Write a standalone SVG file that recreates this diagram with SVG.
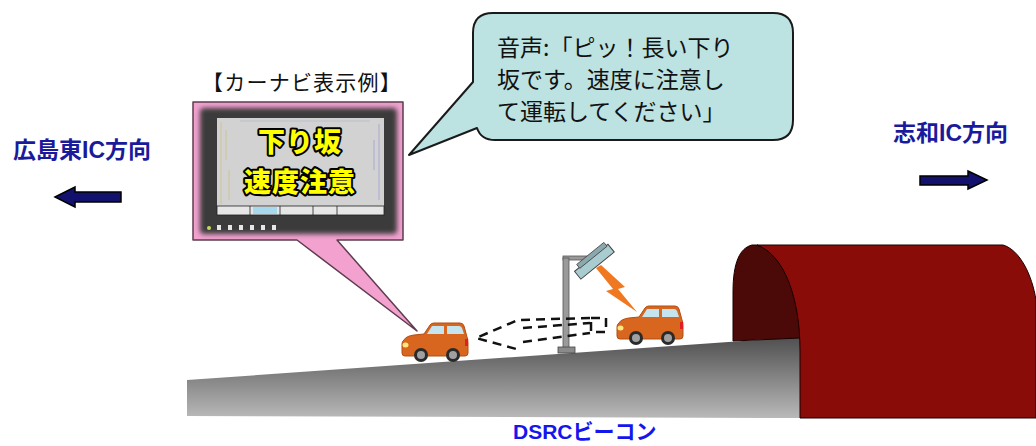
<svg xmlns="http://www.w3.org/2000/svg" width="1036" height="446" viewBox="0 0 1036 446">
  <style>
    .jp { font-family: "Noto Sans CJK JP", sans-serif; }
    .lbl { font-family: "Liberation Sans", "Noto Sans CJK JP", sans-serif; font-weight: bold; }
    .dir { fill: #1a1a9c; font-size: 23px; }
    .beam { fill: none; stroke: #111; stroke-width: 2.5; stroke-dasharray: 9 6; }
    .dirarrow { fill: #12126e; stroke: #000; stroke-width: 1.5; }
    .screen-txt { font-family: "Noto Sans CJK JP", sans-serif; font-weight: 900; font-size: 27px; fill: #ffff00; stroke: #000; stroke-width: 4; paint-order: stroke; stroke-linejoin: round; }
  </style>
  <defs>
    <linearGradient id="roadGrad" gradientUnits="userSpaceOnUse" x1="0" y1="337" x2="0" y2="418">
      <stop offset="0" stop-color="#4f4f4f"/>
      <stop offset="1" stop-color="#b9b9b9"/>
    </linearGradient>
    <filter id="soft" x="-10%" y="-10%" width="120%" height="120%">
      <feGaussianBlur stdDeviation="2.5"/>
    </filter>
    <symbol id="car" viewBox="0 0 66 40" width="66" height="40" overflow="visible">
      <path d="M2,17 Q4,13 12,12 L22,11 L28,2 Q29,0 32,0 L58,0 Q61,0 62,3 L65,14 Q66,16 66,20 L66,30 Q66,33 63,33 L3,33 Q0,33 0,30 L0,21 Q0,18 2,17 Z" fill="#d8661f" stroke="#b14e14" stroke-width="1"/>
      <path d="M25,11 L30,3 L42,3 L42,11 Z" fill="#c4e4ef"/>
      <path d="M45,3 L57,3 Q59,3 60,5 L62,11 L45,11 Z" fill="#c4e4ef"/>
      <ellipse cx="3.5" cy="22" rx="3" ry="2.5" fill="#ffe680"/>
      <rect x="63" y="16" width="3" height="7" fill="#e02020"/>
      <circle cx="19" cy="32" r="7" fill="#2a2a2a"/>
      <circle cx="19" cy="32" r="4" fill="#a0a0a0"/>
      <circle cx="51" cy="32" r="7" fill="#2a2a2a"/>
      <circle cx="51" cy="32" r="4" fill="#a0a0a0"/>
    </symbol>
  </defs>

  <rect width="1036" height="446" fill="#ffffff"/>

  <!-- sloped road -->
  <g id="road">
    <path d="M187,380 L800,337 L800,418 L187,416 Z" fill="url(#roadGrad)"/>
  </g>

  <!-- tunnel portal -->
  <g id="tunnel" stroke="#1a0000" stroke-width="1">
    <path d="M733,341 L733,292 C733,262 740,248 752,245 L757,245 C785,255 800,300 800,338 Z" fill="#4b0a07"/>
    <path d="M757,245 L1003,245 C1020,250 1032,275 1036,300 L1036,418 L800,418 L800,350 C800,300 785,255 757,245 Z" fill="#8a0c08"/>
  </g>

  <!-- car navigation display callout -->
  <g id="navi-callout">
    <text class="jp" x="302" y="90" font-size="21" letter-spacing="1.2" text-anchor="middle" fill="#111">【カーナビ表示例】</text>
    <path d="M193,102 H403 V240 H337 L417,331 L297,240 H193 Z" fill="#f3a2d0" stroke="#5e3c4e" stroke-width="1.5" stroke-linejoin="round"/>
    <rect x="200" y="108" width="197" height="126" rx="4" fill="#3a3a3a" filter="url(#soft)"/>
    <rect x="217" y="118" width="167" height="90" fill="#d2d2d2"/>
    <g stroke-width="0.8" fill="none" opacity="0.7">
      <path d="M221,122 V204 M226,130 V160 M229,170 V200" stroke="#c9b86a"/>
      <path d="M379,124 V200 M374,140 V170" stroke="#8a8ad0"/>
      <path d="M240,121 H370" stroke="#b0b0c8"/>
    </g>
    <rect x="217" y="206" width="167" height="9" fill="#e6e6e6" stroke="#222" stroke-width="0.8"/>
    <rect x="253" y="207" width="24" height="7" fill="#a8d8ee"/>
    <g stroke="#222" stroke-width="0.8">
      <path d="M250,206 V215 M280,206 V215 M313,206 V215 M337,206 V215"/>
    </g>
    <circle cx="209" cy="228" r="2" fill="#c8d85a"/>
    <g fill="#e6e6e6">
      <rect x="217" y="225" width="4" height="5"/>
      <rect x="228" y="225" width="4" height="5"/>
      <rect x="239" y="225" width="4" height="5"/>
      <rect x="250" y="225" width="4" height="5"/>
      <rect x="261" y="225" width="4" height="5"/>
      <rect x="272" y="225" width="4" height="5"/>
    </g>
    <text class="screen-txt" x="300" y="152" text-anchor="middle" letter-spacing="1">下り坂</text>
    <text class="screen-txt" x="300" y="192" text-anchor="middle" letter-spacing="1">速度注意</text>
  </g>

  <!-- voice guidance bubble -->
  <g id="voice-bubble">
    <path d="M493,13 H773 Q793,13 793,33 V120 Q793,140 773,140 H495 Q481,140 477,128 L409,155 L473,82 V33 Q473,13 493,13 Z" fill="#bce2e2" stroke="#1a1a1a" stroke-width="2" stroke-linejoin="round"/>
    <g class="jp" font-size="23" fill="#111">
      <text x="497" y="56">音声:「ピッ！長い下り</text>
      <text x="497" y="88">坂です。速度に注意し</text>
      <text x="497" y="120">て運転してください」</text>
    </g>
  </g>

  <!-- DSRC beacon pole -->
  <g id="dsrc-beacon">
    <rect x="563" y="256" width="24" height="4" fill="#9a9a9a" stroke="#555" stroke-width="0.8"/>
    <rect x="563" y="258" width="6" height="91" fill="#9a9a9a" stroke="#555" stroke-width="0.8"/>
    <rect x="558" y="347" width="17" height="6" fill="#8a8a8a" stroke="#444" stroke-width="0.8"/>
    <g transform="rotate(-39 594 262)">
      <rect x="573" y="257" width="43" height="10" fill="#a9ccd0" stroke="#444" stroke-width="1"/>
      <rect x="579" y="253" width="35" height="5" fill="#8aa8ae" stroke="#444" stroke-width="0.8"/>
    </g>
  </g>

  <!-- vehicles -->
  <g id="car-left">
    <use href="#car" x="402" y="323"/>
  </g>
  <g id="car-right">
    <use href="#car" x="617" y="306"/>
  </g>

  <!-- connectors: radio link, projected beam, direction arrows -->
  <g id="connectors">
    <polygon points="596,268 601,265 625,287 618,289 637,312 606,291 613,289" fill="#f07820"/>
    <path class="beam" d="M590,318 L518,320 L476,338 L520,350"/>
    <path class="beam" d="M523,328 L590,323"/>
    <path class="beam" d="M523,342 L590,333"/>
    <rect class="beam" x="591" y="318" width="15" height="14" stroke-dasharray="6 3"/>
    <polygon class="dirarrow" points="55,197 75,187 75,192 121,192 121,202 75,202 75,207"/>
    <polygon class="dirarrow" points="920,176 968,176 968,171 987,180 968,189 968,185 920,185"/>
  </g>

  <!-- labels -->
  <g id="labels">
    <text class="lbl dir" x="13" y="158">広島東IC方向</text>
    <text class="lbl dir" x="893" y="141">志和IC方向</text>
    <text class="lbl" x="513" y="439" font-size="21" fill="#1515ee">DSRCビーコン</text>
  </g>
</svg>
